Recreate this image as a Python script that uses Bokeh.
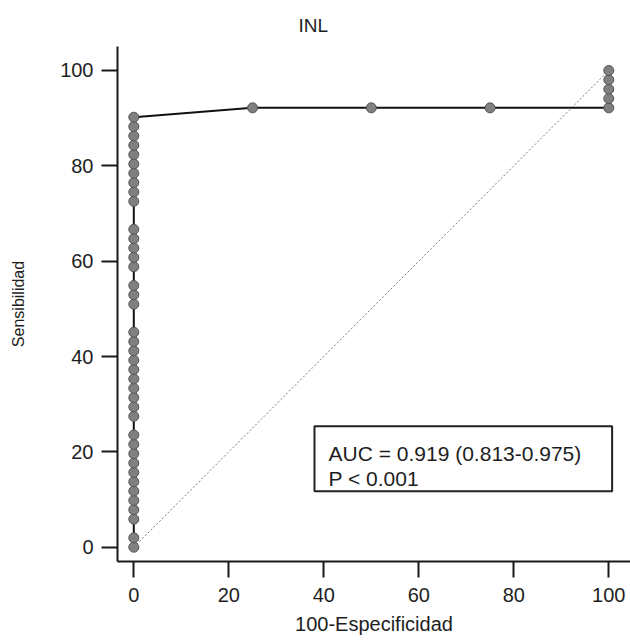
from bokeh.plotting import figure
from bokeh.models import Range1d, BoxAnnotation, Label
from bokeh.embed import file_html
from bokeh.resources import INLINE

# ---- data ----
title_text = "INL"
x_label = "100-Especificidad"
y_label = "Sensibilidad"
x_ticks = [0, 20, 40, 60, 80, 100]
y_ticks = [0, 20, 40, 60, 80, 100]

# ROC curve points: 100-specificity (x) and sensitivity (y)
roc_fpr = [0] * 40 + [25, 50, 75, 100, 100, 100, 100, 100]
roc_sens = [
    0.00, 1.96,
    5.88, 7.84, 9.80, 11.76, 13.73, 15.69, 17.65, 19.61, 21.57, 23.53,
    27.45, 29.41, 31.37, 33.33, 35.29, 37.25, 39.22, 41.18, 43.14, 45.10,
    50.98, 52.94, 54.90,
    58.82, 60.78, 62.75, 64.71, 66.67,
    72.55, 74.51, 76.47, 78.43, 80.39, 82.35, 84.31, 86.27, 88.24, 90.20,
    92.16, 92.16, 92.16, 92.16,
    94.12, 96.08, 98.04, 100.00,
]
diag_x = [0, 100]
diag_y = [0, 100]
auc_text = "AUC = 0.919 (0.813-0.975)"
p_text = "P < 0.001"

FONT = "Liberation Sans"
TXT = "#1e1e1e"

p = figure(
    width=630, height=641,
    x_range=Range1d(-3.43, 104.57), y_range=Range1d(-3.0, 105.03),
    output_backend="svg", toolbar_location=None,
    min_border_left=117, min_border_top=46, min_border_bottom=80, min_border_right=0,
    title=title_text,
)
p.outline_line_color = None
p.xgrid.visible = False
p.ygrid.visible = False
p.background_fill_color = "white"
p.border_fill_color = "white"

p.title.align = "left"
p.title.offset = 181
p.title.standoff = 22
p.title.text_font = FONT
p.title.text_font_size = "19px"
p.title.text_font_style = "normal"
p.title.text_color = TXT

for ax in (p.xaxis[0], p.yaxis[0]):
    ax.axis_line_width = 2
    ax.axis_line_color = "#1a1a1a"
    ax.major_tick_line_width = 2
    ax.major_tick_line_color = "#1a1a1a"
    ax.major_tick_out = 16
    ax.major_tick_in = 0
    ax.minor_tick_line_color = None
    ax.major_label_text_font = FONT
    ax.major_label_text_font_size = "20px"
    ax.major_label_text_color = TXT
    ax.axis_label_text_font = FONT
    ax.axis_label_text_font_size = "20px"
    ax.axis_label_text_font_style = "normal"
    ax.axis_label_text_color = TXT

p.xaxis.ticker = x_ticks
p.yaxis.ticker = y_ticks
p.xaxis.axis_label = x_label
p.yaxis.axis_label = y_label
p.xaxis.major_label_standoff = 10
p.xaxis.axis_label_standoff = 8
p.yaxis.major_label_standoff = 8
p.yaxis.axis_label_standoff = 30
p.yaxis.axis_label_text_font_size = "16px"

# reference diagonal
p.line(diag_x, diag_y, line_color="#7a7a7a", line_width=1, line_dash="2 2")
# ROC curve
p.line(roc_fpr, roc_sens, line_color="#111111", line_width=2)
p.scatter(roc_fpr, roc_sens, size=10, fill_color="#808080",
          line_color="#555555", line_width=1)

# AUC box
box = BoxAnnotation(left=38.04, right=100.7, bottom=11.75, top=25.38,
                    fill_color="white", fill_alpha=1.0,
                    line_color="#222222", line_alpha=1.0, line_width=2)
p.add_layout(box)
p.add_layout(Label(x=41.0, y=19.6, text=auc_text, text_font=FONT,
                   text_font_size="21px", text_color=TXT,
                   text_baseline="alphabetic", text_align="left"))
p.add_layout(Label(x=41.0, y=14.4, text=p_text, text_font=FONT,
                   text_font_size="21px", text_color=TXT,
                   text_baseline="alphabetic", text_align="left"))

open("out.html", "w").write(file_html(p, INLINE))
